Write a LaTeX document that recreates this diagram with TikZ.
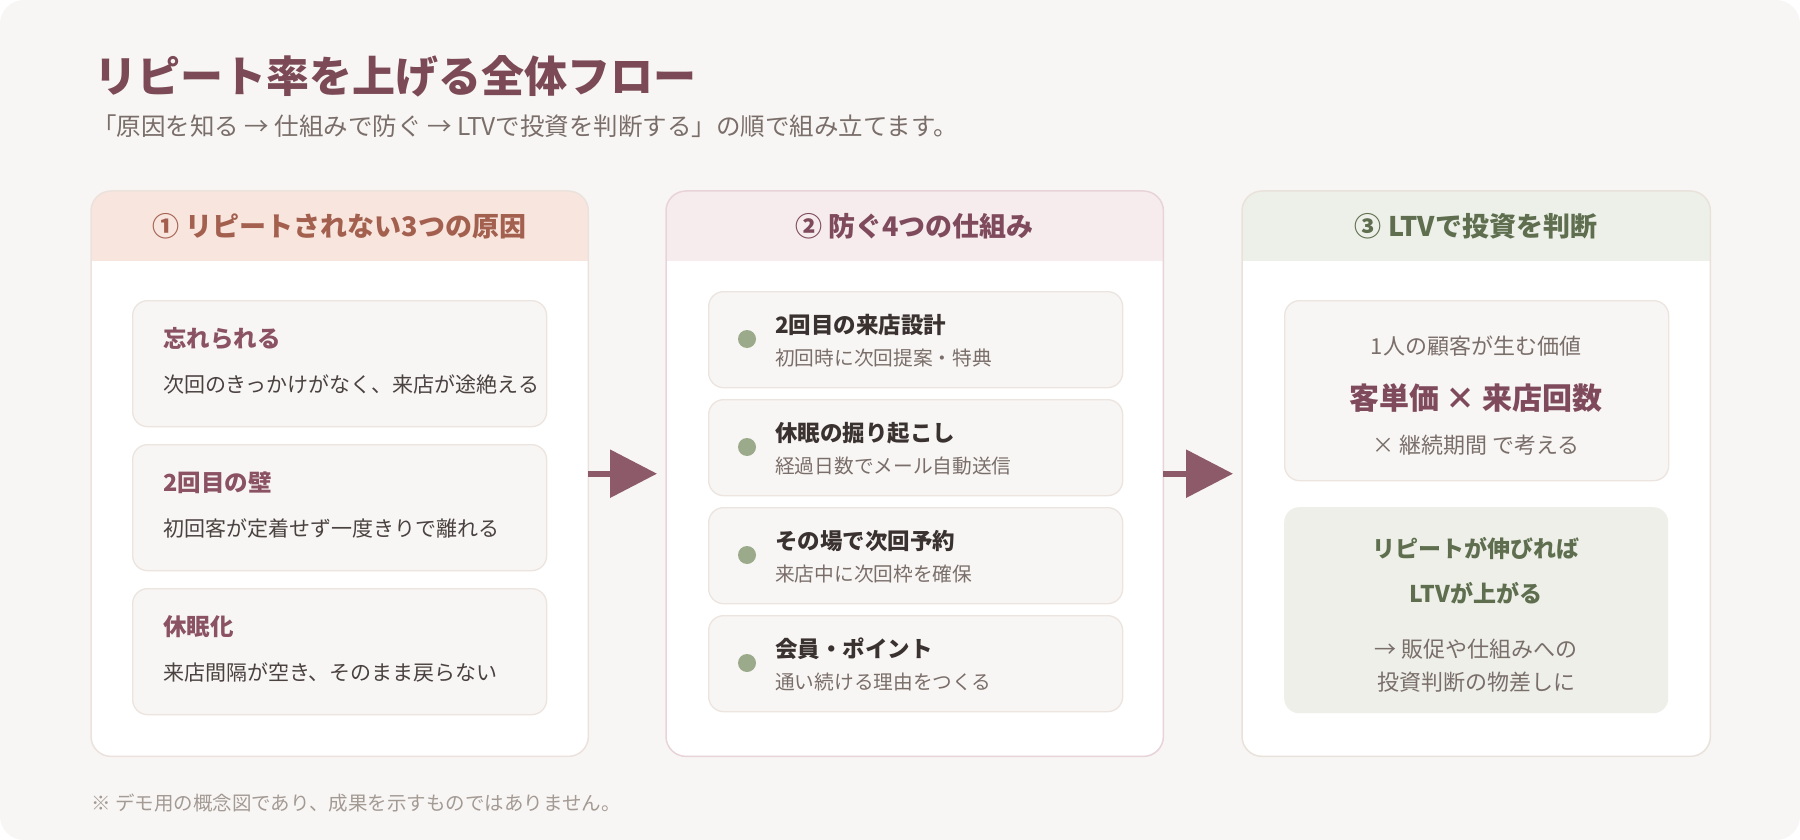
\documentclass[tikz,border=0pt]{standalone}
\usepackage{fontspec}
\setmainfont{Noto Sans CJK JP}
\usetikzlibrary{arrows.meta}
\definecolor{bgc}{HTML}{F8F6F4}
\definecolor{titlec}{HTML}{7B4A56}
\definecolor{subc}{HTML}{7A6E6A}
\definecolor{pbA}{HTML}{ECE2DD}
\definecolor{pbB}{HTML}{E8D3D9}
\definecolor{pbC}{HTML}{E8E2DB}
\definecolor{hA}{HTML}{F7E5DE}
\definecolor{hB}{HTML}{F6ECEE}
\definecolor{hC}{HTML}{EDF0E8}
\definecolor{htA}{HTML}{A4604F}
\definecolor{htB}{HTML}{7E4A5C}
\definecolor{htC}{HTML}{5E6E4E}
\definecolor{cardf}{HTML}{F8F6F4}
\definecolor{cardb}{HTML}{ECE4DF}
\definecolor{maroon}{HTML}{8A5262}
\definecolor{darkt}{HTML}{4A4240}
\definecolor{mtc}{HTML}{3A3230}
\definecolor{dotc}{HTML}{9CAA8C}
\definecolor{arrc}{HTML}{8C5A68}
\definecolor{greenf}{HTML}{EDEFE8}
\definecolor{footc}{HTML}{A39A94}
\newcommand\myfs[1]{\fontsize{#1}{#1}\selectfont}
\tikzset{
  txt/.style={inner sep=0pt, text height=0.88*#1, text depth=0.12*#1},
  ttl/.style={txt=43pt, font=\bfseries\myfs{43}, text=titlec, anchor=west},
  sub/.style={txt=24.5pt, font=\myfs{24.5}, text=subc, anchor=west},
  hdr/.style={txt=27pt, font=\bfseries\myfs{27}},
  ct/.style={txt=23.5pt, font=\bfseries\myfs{23.5}, text=maroon, anchor=west},
  cd/.style={txt=21pt, font=\myfs{21}, text=darkt, anchor=west},
  mt/.style={txt=22.5pt, font=\bfseries\myfs{22.5}, text=mtc, anchor=west},
  md/.style={txt=19.7pt, font=\myfs{19.7}, text=subc, anchor=west},
  lg/.style={txt=22pt, font=\myfs{22}, text=subc},
  lb/.style={txt=30pt, font=\bfseries\myfs{30}, text=htB},
  gb/.style={txt=23pt, font=\bfseries\myfs{23}, text=htC},
  foot/.style={txt=19.5pt, font=\myfs{19.5}, text=footc, anchor=west},
  panel/.style={fill=white, rounded corners=20pt, inner sep=0pt, anchor=north west, minimum width=#1},
  card/.style={fill=cardf, draw=cardb, line width=1.3pt, rounded corners=15pt, inner sep=0pt, anchor=north west, minimum width=414pt},
  gcard/.style={fill=greenf, rounded corners=15pt, inner sep=0pt, anchor=north west, minimum width=384pt},
  dot/.style={circle, fill=dotc, minimum size=18pt, inner sep=0pt},
  arr/.style={line width=6pt, draw=arrc, -{Triangle[length=47pt,width=47pt]}, shorten >=9pt}
}
\begin{document}
\begin{tikzpicture}[x=1pt,y=-1pt]
\useasboundingbox (0,0) rectangle (1800,840);
\fill[white] (0,0) rectangle (1800,840);
\fill[bgc, rounded corners=24pt] (0,0) rectangle (1800,840);

% title
\node[ttl] (title) at (94,76) {リピート率を上げる全体フロー};
\node[sub] (subtitle) at (92,126) {「原因を知る → 仕組みで防ぐ → LTVで投資を判断する」の順で組み立てます。};

% panels
\node[panel=497pt, minimum height=565pt] (p1) at (91,191) {};
\node[panel=497pt, minimum height=565pt] (p2) at (666,191) {};
\node[panel=468pt, minimum height=565pt] (p3) at (1242,191) {};
\foreach \p/\h/\b in {p1/hA/pbA, p2/hB/pbB, p3/hC/pbC}{
  \begin{scope}
    \clip[rounded corners=20pt] (\p.north west) rectangle (\p.south east);
    \fill[\h] (\p.north west) rectangle ([yshift=-70pt]\p.north east);
  \end{scope}
  \draw[\b, line width=1.5pt, rounded corners=20pt] (\p.north west) rectangle (\p.south east);
}
\node[hdr, text=htA] (h1) at (339.5,226) {① リピートされない3つの原因};
\node[hdr, text=htB] (h2) at (914.5,226) {② 防ぐ4つの仕組み};
\node[hdr, text=htC] (h3) at (1476,226) {③ LTVで投資を判断};

% panel 1 cards
\node[card, minimum height=126pt] (c1) at (132,300) {};
\node[card, minimum height=126pt] (c2) at (132,444) {};
\node[card, minimum height=126pt] (c3) at (132,588) {};
\node[ct] (c1t) at (163,339) {忘れられる};
\node[cd] (c1d) at (163,385) {次回のきっかけがなく、来店が途絶える};
\node[ct] (c2t) at (163,483) {2回目の壁};
\node[cd] (c2d) at (163,529) {初回客が定着せず一度きりで離れる};
\node[ct] (c3t) at (163,627) {休眠化};
\node[cd] (c3d) at (163,673) {来店間隔が空き、そのまま戻らない};

% panel 2 cards
\node[card, minimum height=96pt] (m1) at (708,291) {};
\node[card, minimum height=96pt] (m2) at (708,399) {};
\node[card, minimum height=96pt] (m3) at (708,507) {};
\node[card, minimum height=96pt] (m4) at (708,615) {};
\node[dot] (d1) at (747,339) {};
\node[dot] (d2) at (747,447) {};
\node[dot] (d3) at (747,555) {};
\node[dot] (d4) at (747,663) {};
\node[mt] (m1t) at (775,325) {2回目の来店設計};
\node[md] (m1d) at (775,358) {初回時に次回提案・特典};
\node[mt] (m2t) at (775,433) {休眠の掘り起こし};
\node[md] (m2d) at (775,466) {経過日数でメール自動送信};
\node[mt] (m3t) at (775,541) {その場で次回予約};
\node[md] (m3d) at (775,574) {来店中に次回枠を確保};
\node[mt] (m4t) at (775,649) {会員・ポイント};
\node[md] (m4d) at (775,682) {通い続ける理由をつくる};

% panel 3
\node[card, minimum width=384pt, minimum height=180pt] (l1) at (1284,300) {};
\node[lg] (l1a) at (1476,346) {1人の顧客が生む価値};
\node[lb] (l1b) at (1476,398) {客単価 × 来店回数};
\node[lg] (l1c) at (1476,445) {× 継続期間 で考える};
\node[gcard, minimum height=206pt] (l2) at (1284,507) {};
\node[gb] (l2a) at (1476,549) {リピートが伸びれば};
\node[gb] (l2b) at (1476,594) {LTVが上がる};
\node[lg] (l2c) at (1476,649) {→ 販促や仕組みへの};
\node[lg] (l2d) at (1476,682) {投資判断の物差しに};

% arrows
\draw[arr] (p1.east) -- (p2.west);
\draw[arr] (p2.east) -- (p3.west);

% footer
\node[foot] (footer) at (91,803) {※ デモ用の概念図であり、成果を示すものではありません。};
\end{tikzpicture}
\end{document}
